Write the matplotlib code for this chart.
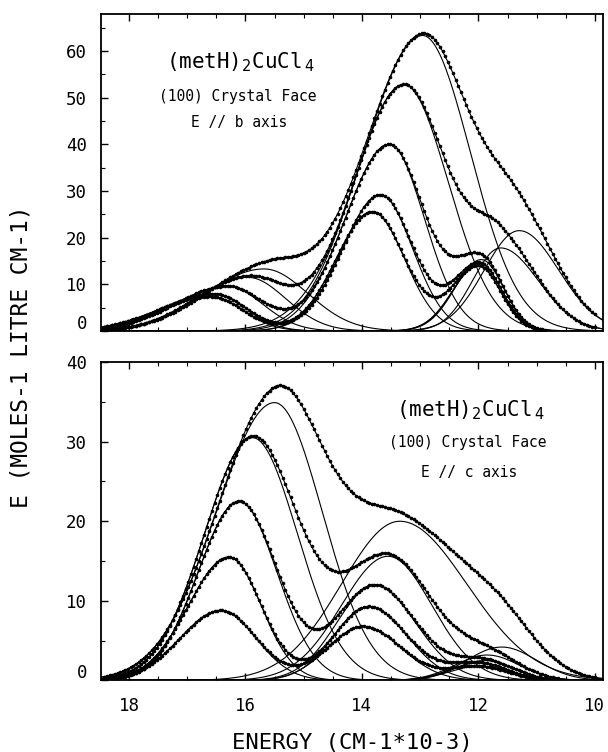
import numpy as np
import matplotlib
matplotlib.use('Agg')
import matplotlib.pyplot as plt
from matplotlib.ticker import MultipleLocator
from matplotlib.transforms import ScaledTranslation

plt.rcParams.update({
    'font.family': 'DejaVu Sans Mono',
    'mathtext.fontset': 'dejavusans',
    'axes.linewidth': 1.3,
})

# ─── Band parameters (energy in 10^3 cm-1) ──────────────────────────────────
# each band: centre, height, width on high-energy side, width on low-energy side
# E // b axis : five spectra, three bands each
B_CENTRE = [[15.68, 12.96, 11.30],
            [15.96, 13.28, 11.62],
            [16.31, 13.53, 11.95],
            [16.54, 13.68, 11.98],
            [16.60, 13.82, 12.00]]
B_HEIGHT = [[13.3, 63.3, 21.5],
            [11.5, 52.8, 17.8],
            [9.6, 40.0, 15.3],
            [8.0, 29.2, 14.5],
            [7.4, 25.6, 14.0]]
B_W_HI = [[1.00, 1.00, 0.60],
          [0.90, 0.85, 0.48],
          [0.90, 0.75, 0.45],
          [0.90, 0.65, 0.45],
          [0.90, 0.62, 0.45]]
B_W_LO = [[0.75, 0.82, 0.68],
          [0.65, 0.76, 0.65],
          [0.60, 0.60, 0.38],
          [0.55, 0.55, 0.38],
          [0.55, 0.55, 0.38]]

# E // c axis : five spectra, three bands each
C_CENTRE = [[15.50, 13.35, 11.60],
            [15.88, 13.55, 11.85],
            [16.11, 13.78, 11.90],
            [16.28, 13.88, 12.00],
            [16.42, 13.98, 12.00]]
C_HEIGHT = [[34.9, 20.0, 4.2],
            [30.5, 15.6, 3.2],
            [22.5, 12.0, 2.5],
            [15.5, 9.3, 2.2],
            [8.8, 6.8, 1.8]]
C_W_HI = [[1.00, 1.00, 0.60],
          [0.82, 0.80, 0.55],
          [0.70, 0.65, 0.50],
          [0.70, 0.60, 0.50],
          [0.70, 0.60, 0.50]]
C_W_LO = [[0.82, 1.15, 0.60],
          [0.77, 0.75, 0.55],
          [0.65, 0.70, 0.50],
          [0.55, 0.65, 0.50],
          [0.60, 0.65, 0.50]]

X_TICKS = [18, 16, 14, 12, 10]
XLIM = (18.48, 9.86)


def band(x, c, h, w_hi, w_lo):
    w = np.where(x > c, w_hi, w_lo)
    return h * np.exp(-(x - c) ** 2 / (2 * w ** 2))


def draw_panel(ax, centre, height, w_hi, w_lo, ylim):
    xf = np.linspace(18.5, 9.8, 1200)
    xd = np.arange(18.42, 10.0, -0.045)
    for c, h, wh, wl in zip(centre, height, w_hi, w_lo):
        comps = [band(xf, *p) for p in zip(c, h, wh, wl)]
        for comp in comps:
            ax.plot(xf, comp, color='black', lw=0.8)
        total = np.sum(comps, axis=0)
        ax.plot(xf, total, color='black', lw=0.8)
        obs = np.sum([band(xd, *p) for p in zip(c, h, wh, wl)], axis=0)
        keep = obs > 0.25
        ax.plot(xd[keep], obs[keep], 'o', color='black', ms=2.6, mew=0)

    ax.set_xlim(*XLIM)
    ax.set_ylim(*ylim)
    ax.xaxis.set_major_locator(MultipleLocator(2))
    ax.xaxis.set_minor_locator(MultipleLocator(0.5))
    ax.yaxis.set_major_locator(MultipleLocator(10))
    ax.yaxis.set_minor_locator(MultipleLocator(5))
    ax.tick_params(which='both', direction='in', top=True, right=False,
                   labelsize=12.5)
    ax.tick_params(which='major', length=5, width=1.0, pad=10)
    ax.tick_params(which='minor', length=3, width=0.8)
    ax.tick_params(axis='x', which='major', pad=12)
    return ax


fig = plt.figure(figsize=(6.08, 7.52), dpi=100)
ax1 = fig.add_axes([0.1661, 0.5598, 0.8257, 0.4222])
ax2 = fig.add_axes([0.1661, 0.0951, 0.8257, 0.4235])

draw_panel(ax1, B_CENTRE, B_HEIGHT, B_W_HI, B_W_LO, (0, 68))
draw_panel(ax2, C_CENTRE, C_HEIGHT, C_W_HI, C_W_LO, (0, 40))

ax1.set_yticks([0, 10, 20, 30, 40, 50, 60])
ax2.set_yticks([0, 10, 20, 30, 40])
ax1.tick_params(axis='x', labelbottom=False)
ax2.set_xticks(X_TICKS)
ax2.set_xticklabels([str(v) for v in X_TICKS])

# the zero label sits a little above the axis in the original
for ax in (ax1, ax2):
    labs = ax.get_yticklabels()
    labs[0].set_transform(labs[0].get_transform() +
                          ScaledTranslation(0, 9 / 100, fig.dpi_scale_trans))

ax2.set_xlabel('ENERGY (CM-1*10-3)', fontsize=16, labelpad=13)
fig.text(0.035, 0.525, 'E (MOLES-1 LITRE CM-1)', rotation=90,
         ha='center', va='center', fontsize=16.5)

# annotations (pixel positions)
ax1.text(240, 752 - 62, r'(metH)$_{2}$CuCl$_{\,4}$', transform=None,
         ha='center', va='center', fontsize=15)
ax1.text(238, 752 - 97, '(100) Crystal Face', transform=None,
         ha='center', va='center', fontsize=10.5)
ax1.text(239, 752 - 122, 'E // b axis', transform=None,
         ha='center', va='center', fontsize=10.5)

ax2.text(470, 752 - 410, r'(metH)$_{2}$CuCl$_{\,4}$', transform=None,
         ha='center', va='center', fontsize=15)
ax2.text(468, 752 - 443, '(100) Crystal Face', transform=None,
         ha='center', va='center', fontsize=10.5)
ax2.text(469, 752 - 472, 'E // c axis', transform=None,
         ha='center', va='center', fontsize=10.5)

fig.savefig('out.png', dpi=100)
